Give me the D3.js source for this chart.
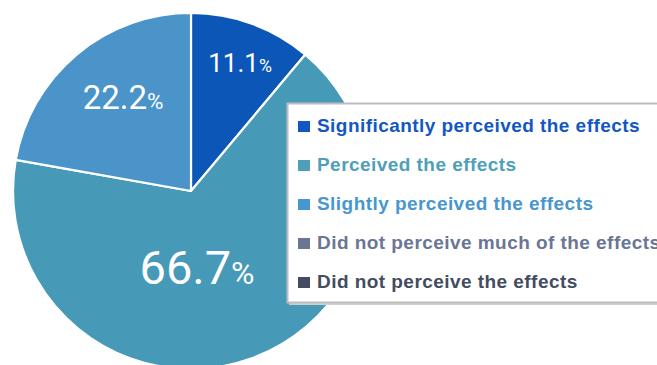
<!DOCTYPE html>
<html>
<head>
<meta charset="utf-8">
<script src="https://cdn.jsdelivr.net/npm/d3@7"></script>
<style>
  html, body { margin: 0; padding: 0; background: #fff; overflow: hidden; }
</style>
</head>
<body>
<svg id="chart" width="657" height="365"></svg>
<script>
// data
const categories = [
  "Significantly perceived the effects",
  "Perceived the effects",
  "Slightly perceived the effects",
  "Did not perceive much of the effects",
  "Did not perceive the effects"
];
const values = [11.1, 66.7, 22.2, 0, 0];
const valueLabels = ["11.1", "66.7", "22.2", "", ""];

const SLICE_COLORS = ["#0b56b6", "#4799b8", "#4a94ca", "#687797", "#434c61"];
const TEXT_COLORS = ["#1257c2", "#4f9fba", "#4797cf", "#6a7694", "#434c60"];

const svg = d3.select("#chart");
const cx = 191, cy = 191, radius = 178;

const g = svg.append("g").attr("transform", `translate(${cx},${cy})`);

const pie = d3.pie().sort(null).value(d => d);
const arcs = pie(values);
const arc = d3.arc().innerRadius(0).outerRadius(radius);

// slices
g.selectAll("path.slice")
  .data(arcs.filter(d => d.value > 0))
  .join("path")
  .attr("class", "slice")
  .attr("d", arc)
  .attr("fill", d => SLICE_COLORS[d.index])
  .attr("stroke", "#fff")
  .attr("stroke-width", 2.2)
  .attr("stroke-linejoin", "round");

// value labels: [radius fraction, angle shift in degrees, font size]
const labelPlace = [
  [0.77, 1, 26],
  [0.43, 15.5, 47],
  [0.65, 4, 33]
];

arcs.forEach((d, i) => {
  if (!d.value) return;
  const [rf, shift, fs] = labelPlace[i];
  const a = (d.startAngle + d.endAngle) / 2 + shift * Math.PI / 180;
  const lx = Math.sin(a) * radius * rf;
  const ly = -Math.cos(a) * radius * rf;
  const t = g.append("text")
    .attr("x", lx)
    .attr("y", ly + fs * 0.36)
    .attr("text-anchor", "middle")
    .attr("font-family", "Roboto, sans-serif")
    .attr("fill", "#fff");
  t.append("tspan").attr("font-size", fs).text(valueLabels[i]);
  t.append("tspan").attr("font-size", fs * 0.68).text("%");
});

// legend box
const legend = svg.append("g");
legend.append("rect")
  .attr("x", 289).attr("y", 105)
  .attr("width", 380).attr("height", 200)
  .attr("fill", "#d0d0d0");
legend.append("rect")
  .attr("x", 287.5).attr("y", 103.5)
  .attr("width", 380).attr("height", 199)
  .attr("fill", "#fff")
  .attr("stroke", "#bdbdbd")
  .attr("stroke-width", 2);

const rowY = d3.scalePoint()
  .domain(categories)
  .range([132, 288]);

const rows = legend.selectAll("g.row")
  .data(categories)
  .join("g")
  .attr("class", "row")
  .attr("transform", d => `translate(0,${rowY(d)})`);

rows.append("rect")
  .attr("x", 298).attr("y", -11)
  .attr("width", 12).attr("height", 11)
  .attr("fill", (d, i) => TEXT_COLORS[i]);

rows.append("text")
  .attr("x", 317)
  .attr("y", 0)
  .attr("font-family", "'Liberation Sans', Arial, sans-serif")
  .attr("font-weight", 700)
  .attr("font-size", 19)
  .attr("letter-spacing", 0.45)
  .attr("fill", (d, i) => TEXT_COLORS[i])
  .text(d => d);
</script>
</body>
</html>
